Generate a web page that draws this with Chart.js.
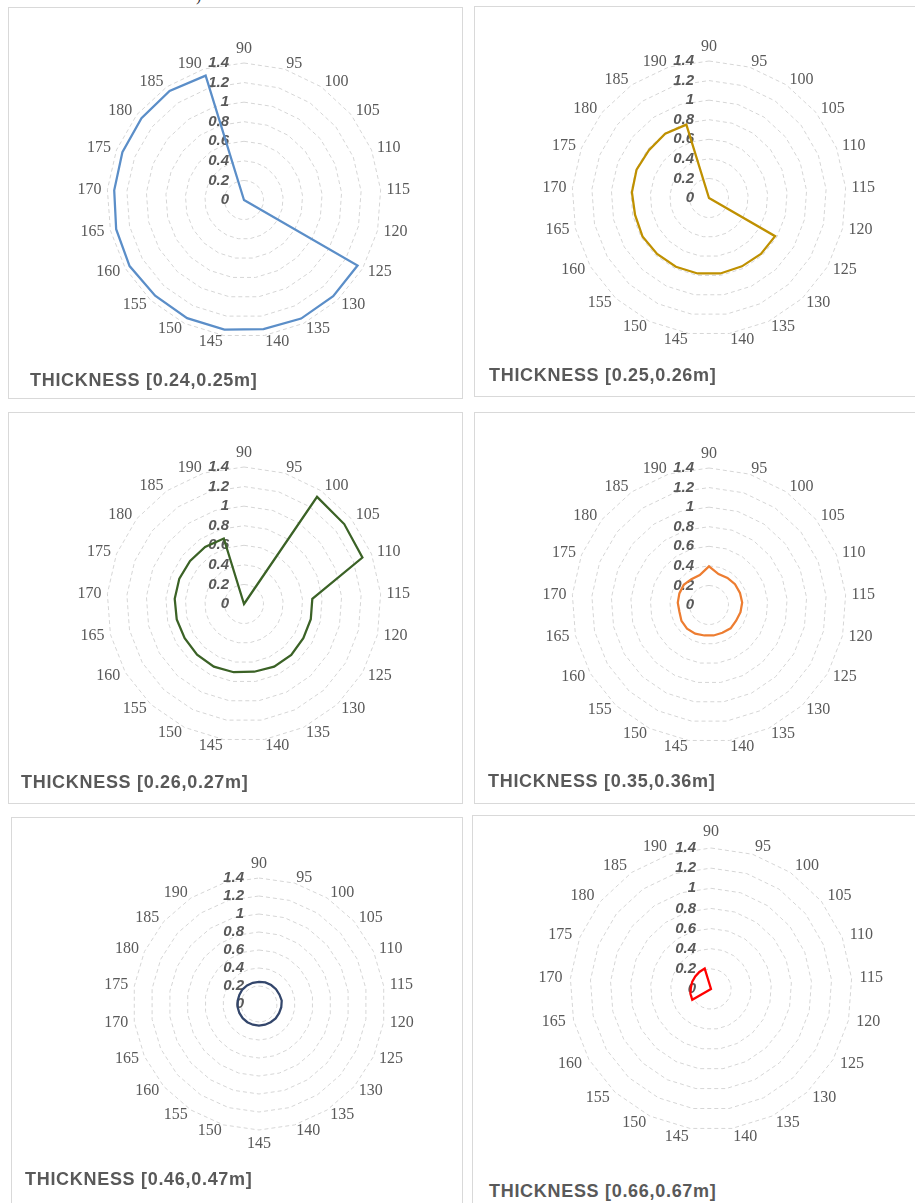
<!DOCTYPE html>
<html>
<head>
<meta charset="utf-8">
<script src="https://cdn.jsdelivr.net/npm/chart.js@4.4.1/dist/chart.umd.min.js"></script>
<style>
  html, body { margin: 0; padding: 0; background: #fff; }
  body { position: relative; width: 915px; height: 1203px; overflow: hidden; }
  .panel { position: absolute; border: 1px solid #d9d9d9; box-sizing: border-box; background: #fff; }
  canvas { position: absolute; }
  .title {
    position: absolute; white-space: nowrap; line-height: 20px;
    font: bold 18px "Liberation Sans", Arial, sans-serif; color: #595959; letter-spacing: 0.7px;
  }
  .frag { position: absolute; font: 16px "Liberation Serif", serif; color: #333; }
</style>
</head>
<body>
<span class="frag" style="left:196px; top:-13px;">)</span>
<script>
// Wall orientation classes (degrees) around each radar
const angleLabels = ['90', '95', '100', '105', '110', '115', '120', '125', '130', '135', '140',
                     '145', '150', '155', '160', '165', '170', '175', '180', '185', '190'];
// the 0.46–0.47 m chart carries one extra, unlabelled spoke
const angleLabelsExtra = ['90', '95', '100', '105', '110', '115', '120', '125', '130', '135', '140',
                          '145', '150', '155', '160', '165', '170', '175', '180', '185', '190', ''];

// Radial axis
const tickValues = [0, 0.2, 0.4, 0.6, 0.8, 1, 1.2, 1.4];
const tickLabels = ['0', '0.2', '0.4', '0.6', '0.8', '1', '1.2', '1.4'];

// Series, one per thickness class
const thick024 = [0, 0, 0, 0, 0, 0, 0, 1.34, 1.34, 1.345, 1.335, 1.34, 1.34, 1.335, 1.35, 1.34, 1.33, 1.335, 1.34, 1.35, 1.33];
const thick025 = [0, 0, 0, 0, 0, 0, 0, 0.78, 0.78, 0.775, 0.78, 0.78, 0.78, 0.78, 0.785, 0.775, 0.79, 0.795, 0.785, 0.795, 0.785];
const thick026 = [0, 0, 1.325, 1.31, 1.3, 0.70, 0.70, 0.70, 0.71, 0.71, 0.70, 0.705, 0.71, 0.705, 0.70, 0.705, 0.71, 0.71, 0.705, 0.705, 0.70];
const thick035 = [0.395, 0.33, 0.335, 0.34, 0.34, 0.34, 0.33, 0.32, 0.325, 0.315, 0.315, 0.315, 0.325, 0.33, 0.325, 0.31, 0.32, 0.325, 0.33, 0.32, 0.32];
const thick046 = [0.245, 0.25, 0.25, 0.25, 0.25, 0.255, 0.25, 0.245, 0.245, 0.24, 0.24, 0.24, 0.24, 0.24, 0.24, 0.24, 0.24, 0.24, 0.24, 0.245, 0.245, 0.245];
const thick066 = [0, 0, 0, 0, 0, 0, 0, 0, 0, 0, 0, 0, 0, 0, 0.215, 0.21, 0.2, 0.2, 0.2, 0.205, 0.212];

const panelTitles = ['THICKNESS [0.24,0.25m]', 'THICKNESS [0.25,0.26m]', 'THICKNESS [0.26,0.27m]',
                     'THICKNESS [0.35,0.36m]', 'THICKNESS [0.46,0.47m]', 'THICKNESS [0.66,0.67m]'];
const lineColors = ['#5b8ec8', '#bf9000', '#3b6226', '#ed7d31', '#33466b', '#ff0000'];

// Page layout of the six framed charts
const layout = [
  { box: [8, 7, 455, 392],   cx: 244, cy: 200,  r: 137, gap: 6, title: [30, 386] },
  { box: [474, 6, 460, 391], cx: 709, cy: 198,  r: 137, gap: 6, title: [489, 381] },
  { box: [8, 412, 455, 392], cx: 244, cy: 604,  r: 137, gap: 6, title: [21, 788] },
  { box: [474, 412, 460, 392], cx: 709, cy: 605, r: 137, gap: 6, title: [488, 787] },
  { box: [11, 817, 452, 420], cx: 259, cy: 1004, r: 126, gap: 6, title: [25, 1185] },
  { box: [472, 815, 460, 420], cx: 711, cy: 989, r: 141, gap: 8, title: [489, 1197] }
];
const seriesList = [thick024, thick025, thick026, thick035, thick046, thick066];
const labelSets = [angleLabels, angleLabels, angleLabels, angleLabels, angleLabelsExtra, angleLabels];

// Draws the value ticks beside the vertical spoke and the angle labels around the rim
const radarText = {
  id: 'radarText',
  beforeDatasetsDraw(chart, args, opts) {
    const s = chart.scales.r;
    const ctx = chart.ctx;
    ctx.save();
    ctx.fillStyle = '#595959';
    ctx.font = 'italic bold 15px "Liberation Sans", Arial, sans-serif';
    ctx.textAlign = 'right';
    ctx.textBaseline = 'middle';
    tickValues.forEach((v, i) => {
      const d = s.getDistanceFromCenterForValue(v);
      ctx.fillText(tickLabels[i], s.xCenter - 15, s.yCenter - d);
    });

    ctx.font = '16px "Liberation Serif", "Times New Roman", serif';
    const R = s.drawingArea + opts.gap;
    chart.data.labels.forEach((lab, i) => {
      if (!lab) return;
      const p = s.getPointPosition(i, R);
      const deg = s.getIndexAngle(i) * 180 / Math.PI;
      if (deg < 0.5 || deg > 359.5) {
        ctx.textAlign = 'center'; ctx.textBaseline = 'bottom';
      } else if (Math.abs(deg - 180) < 0.5) {
        ctx.textAlign = 'center'; ctx.textBaseline = 'top';
      } else {
        ctx.textAlign = deg < 180 ? 'left' : 'right'; ctx.textBaseline = 'middle';
      }
      ctx.fillText(lab, p.x, p.y);
    });
    ctx.restore();
  }
};

const M = 50;
layout.forEach((L, k) => {
  const frame = document.createElement('div');
  frame.className = 'panel';
  frame.style.left = L.box[0] + 'px';
  frame.style.top = L.box[1] + 'px';
  frame.style.width = L.box[2] + 'px';
  frame.style.height = L.box[3] + 'px';
  document.body.appendChild(frame);

  const size = 2 * L.r + 2 * M;
  const cv = document.createElement('canvas');
  cv.width = size; cv.height = size;
  cv.style.left = (L.cx - L.r - M) + 'px';
  cv.style.top = (L.cy - L.r - M) + 'px';
  cv.style.width = size + 'px'; cv.style.height = size + 'px';
  document.body.appendChild(cv);

  const t = document.createElement('div');
  t.className = 'title';
  t.textContent = panelTitles[k];
  t.style.left = L.title[0] + 'px';
  t.style.top = (L.title[1] - 16) + 'px';
  document.body.appendChild(t);

  new Chart(cv, {
    type: 'radar',
    data: {
      labels: labelSets[k],
      datasets: [{
        data: seriesList[k],
        borderColor: lineColors[k],
        borderWidth: 2.25,
        backgroundColor: 'transparent',
        fill: false,
        pointRadius: 0,
        pointHoverRadius: 0,
        tension: 0
      }]
    },
    options: {
      responsive: false,
      animation: false,
      layout: { padding: M },
      plugins: {
        legend: { display: false },
        tooltip: { enabled: false },
        radarText: { gap: L.gap }
      },
      scales: {
        r: {
          min: 0, max: 1.4,
          ticks: { display: false, stepSize: 0.2 },
          pointLabels: { display: false },
          angleLines: { display: false },
          grid: { color: '#d6d6d6', lineWidth: 1 },
          border: { dash: [4, 3] }
        }
      }
    },
    plugins: [radarText]
  });
});
</script>
</body>
</html>
